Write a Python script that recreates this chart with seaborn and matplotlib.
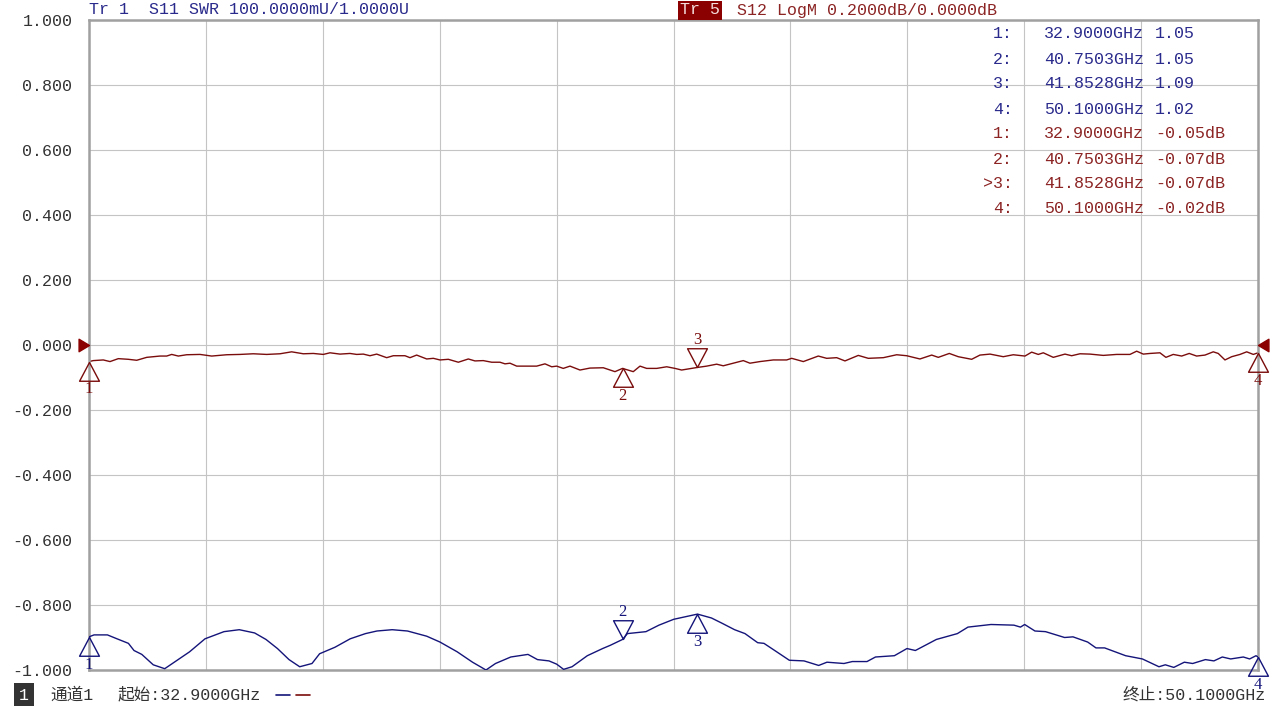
import numpy as np
import pandas as pd
import matplotlib
matplotlib.use('Agg')
import matplotlib.pyplot as plt
from matplotlib.path import Path
import seaborn as sns

# Tr 1: S11 SWR (GHz, U)
s11_freq = [32.900, 32.974, 33.171, 33.312, 33.480, 33.562, 33.677, 33.845, 34.014, 34.155,
            34.380, 34.607, 34.886, 35.111, 35.337, 35.504, 35.673, 35.843, 36.000, 36.181,
            36.293, 36.519, 36.743, 36.968, 37.137, 37.361, 37.586, 37.869, 38.064, 38.317,
            38.543, 38.741, 38.881, 39.106, 39.359, 39.499, 39.668, 39.781, 39.883, 40.007,
            40.232, 40.457, 40.570, 40.750, 40.822, 41.095, 41.286, 41.503, 41.853, 42.059,
            42.213, 42.399, 42.552, 42.739, 42.831, 43.018, 43.204, 43.420, 43.636, 43.758,
            44.008, 44.131, 44.347, 44.472, 44.750, 44.935, 45.059, 45.368, 45.677, 45.833,
            46.171, 46.509, 46.605, 46.667, 46.818, 46.974, 47.254, 47.378, 47.594, 47.716,
            47.843, 48.152, 48.399, 48.643, 48.736, 48.861, 49.016, 49.139, 49.326, 49.451,
            49.575, 49.698, 49.884, 49.977, 50.071, 50.100]
s11_swr = [1.051, 1.054, 1.054, 1.048, 1.041, 1.030, 1.024, 1.008, 1.002, 1.012,
           1.028, 1.048, 1.059, 1.062, 1.057, 1.047, 1.033, 1.016, 1.005, 1.010,
           1.025, 1.035, 1.048, 1.056, 1.060, 1.062, 1.060, 1.052, 1.043, 1.028,
           1.012, 1.000, 1.010, 1.020, 1.024, 1.016, 1.014, 1.009, 1.001, 1.005,
           1.022, 1.033, 1.038, 1.047, 1.056, 1.059, 1.069, 1.078, 1.086, 1.080,
           1.072, 1.062, 1.056, 1.042, 1.041, 1.028, 1.015, 1.014, 1.007, 1.012,
           1.010, 1.013, 1.013, 1.020, 1.022, 1.033, 1.030, 1.047, 1.056, 1.066,
           1.070, 1.069, 1.066, 1.070, 1.060, 1.059, 1.050, 1.051, 1.043, 1.034,
           1.034, 1.022, 1.017, 1.005, 1.008, 1.004, 1.012, 1.010, 1.016, 1.014,
           1.020, 1.017, 1.020, 1.017, 1.022, 1.020]

# Tr 5: S12 LogM (GHz, dB)
s12_freq = [32.900, 32.963, 33.110, 33.209, 33.331, 33.478, 33.602, 33.749, 33.945, 34.043,
            34.117, 34.214, 34.337, 34.533, 34.705, 34.926, 35.122, 35.317, 35.515, 35.710,
            35.882, 36.053, 36.200, 36.347, 36.446, 36.593, 36.740, 36.839, 36.936, 37.034,
            37.133, 37.280, 37.377, 37.549, 37.623, 37.721, 37.869, 37.966, 38.064, 38.187,
            38.334, 38.481, 38.579, 38.701, 38.825, 38.947, 39.021, 39.094, 39.193, 39.487,
            39.609, 39.708, 39.781, 39.878, 39.977, 40.124, 40.271, 40.467, 40.639, 40.750,
            40.908, 41.007, 41.105, 41.253, 41.400, 41.522, 41.620, 41.853, 41.988, 42.135,
            42.232, 42.380, 42.527, 42.625, 42.772, 42.968, 43.165, 43.239, 43.410, 43.630,
            43.754, 43.901, 44.023, 44.219, 44.366, 44.587, 44.784, 44.931, 45.126, 45.299,
            45.396, 45.558, 45.690, 45.887, 46.009, 46.157, 46.352, 46.499, 46.671, 46.770,
            46.867, 46.941, 47.088, 47.260, 47.358, 47.481, 47.628, 47.823, 48.021, 48.216,
            48.315, 48.412, 48.511, 48.657, 48.745, 48.853, 48.977, 49.088, 49.197, 49.320,
            49.442, 49.515, 49.614, 49.713, 49.835, 49.934, 50.031, 50.100]
s12_db = [-0.051, -0.048, -0.046, -0.051, -0.042, -0.044, -0.047, -0.038, -0.034, -0.034,
          -0.029, -0.034, -0.030, -0.029, -0.034, -0.030, -0.029, -0.027, -0.029, -0.027,
          -0.021, -0.027, -0.026, -0.029, -0.024, -0.028, -0.026, -0.029, -0.028, -0.033,
          -0.028, -0.039, -0.033, -0.033, -0.039, -0.031, -0.043, -0.041, -0.046, -0.044,
          -0.053, -0.043, -0.049, -0.048, -0.053, -0.053, -0.058, -0.056, -0.065, -0.065,
          -0.058, -0.067, -0.065, -0.072, -0.065, -0.077, -0.071, -0.070, -0.082, -0.072,
          -0.082, -0.065, -0.072, -0.072, -0.067, -0.072, -0.077, -0.069, -0.065, -0.059,
          -0.064, -0.056, -0.048, -0.056, -0.051, -0.046, -0.046, -0.041, -0.051, -0.034,
          -0.041, -0.039, -0.049, -0.032, -0.041, -0.039, -0.030, -0.033, -0.043, -0.031,
          -0.038, -0.026, -0.036, -0.044, -0.031, -0.028, -0.036, -0.030, -0.034, -0.022,
          -0.029, -0.024, -0.038, -0.028, -0.033, -0.027, -0.028, -0.032, -0.029, -0.029,
          -0.019, -0.028, -0.026, -0.024, -0.038, -0.029, -0.034, -0.026, -0.034, -0.031,
          -0.021, -0.026, -0.046, -0.036, -0.029, -0.021, -0.029, -0.024]

f_start, f_stop = 32.9, 50.1
y_ticks = [1.0, 0.8, 0.6, 0.4, 0.2, 0.0, -0.2, -0.4, -0.6, -0.8, -1.0]

mk_ids = ['1', '2', '3', '4']
mk_freq = [32.9, 40.7503, 41.8528, 50.1]
mk_freq_txt = ['32.9000GHz', '40.7503GHz', '41.8528GHz', '50.1000GHz']
mk_swr_txt = ['1.05', '1.05', '1.09', '1.02']
mk_db_txt = ['-0.05dB', '-0.07dB', '-0.07dB', '-0.02dB']
s11_mk_up = [True, False, True, True]
s12_mk_up = [True, True, False, True]

blue = '#14147a'
blue_txt = '#2a2a8c'
red = '#7a0c0c'
red_txt = '#8c2424'
grey_txt = '#333333'

sns.set_style('white')
fonts = ['Liberation Mono', 'Noto Sans CJK SC']
plt.rcParams['font.family'] = fonts
plt.rcParams['font.size'] = 12

fig = plt.figure(figsize=(12.8, 7.06), dpi=100)
ax = fig.add_axes([89 / 1280, 1 - 670 / 706, (1258 - 89) / 1280, 650 / 706])
ax.set_xlim(f_start, f_stop)
ax.set_ylim(-1, 1)
ax.set_xticks(np.linspace(f_start, f_stop, 11))
ax.set_xticklabels([])
ax.set_yticks(y_ticks)
ax.set_yticklabels([f'{v:.3f}' for v in y_ticks], color=grey_txt, fontsize=12)
ax.tick_params(length=0, pad=12)
ax.grid(True, color='#c4c4c4', lw=0.8)
for s in ax.spines.values():
    s.set_color('#a0a0a0')
    s.set_linewidth(1.8)

ax2 = ax.twinx()
ax2.set_ylim(1.0, 2.0)
ax2.set_yticks([])
for s in ax2.spines.values():
    s.set_visible(False)

df11 = pd.DataFrame({'freq': s11_freq, 'swr': s11_swr})
df12 = pd.DataFrame({'freq': s12_freq, 'db': s12_db})
sns.lineplot(data=df12, x='freq', y='db', ax=ax, color=red, lw=1.0)
sns.lineplot(data=df11, x='freq', y='swr', ax=ax2, color=blue, lw=1.0)
for a in (ax, ax2):
    a.set_xlabel('')
    a.set_ylabel('')

tri_up = Path([(0, 0), (-0.53, -1), (0.53, -1), (0, 0)], closed=True)
tri_dn = Path([(0, 0), (-0.53, 1), (0.53, 1), (0, 0)], closed=True)


def draw_markers(a, xs, ys, ups, color):
    for mid, f, up in zip(mk_ids, mk_freq, ups):
        yv = np.interp(f, xs, ys)
        a.plot([f], [yv], marker=tri_up if up else tri_dn, ms=27, mfc='none',
               mec=color, mew=1.0, clip_on=False, zorder=5)
        a.annotate(mid, xy=(f, yv), xytext=(0, -20 if up else 20),
                   textcoords='offset points', ha='center', va='center',
                   color=color, fontsize=12, annotation_clip=False,
                   family=['Liberation Serif'])


draw_markers(ax, s12_freq, s12_db, s12_mk_up, red)
draw_markers(ax2, s11_freq, s11_swr, s11_mk_up, blue)

# reference level arrows for Tr 5
ref_r = Path([(0, 0), (-1, 0.6), (-1, -0.6), (0, 0)], closed=True)
ref_l = Path([(0, 0), (1, 0.6), (1, -0.6), (0, 0)], closed=True)
ax.plot([f_start], [0], marker=ref_r, ms=15, color='#8b0000', clip_on=False, zorder=6)
ax.plot([f_stop], [0], marker=ref_l, ms=15, color='#8b0000', clip_on=False, zorder=6)


def ftext(px, py, s, **kw):
    kw.setdefault('va', 'center')
    kw.setdefault('fontsize', 12)
    return fig.text(px / 1280, 1 - py / 706, s, **kw)


# header
ftext(89, 10, 'Tr 1  S11 SWR 100.0000mU/1.0000U', color=blue_txt)
ftext(680, 10, 'Tr 5', color='#f4dede',
      bbox=dict(boxstyle='square,pad=0.12', fc='#8b0000', ec='none'))
ftext(737, 10, 'S12 LogM 0.2000dB/0.0000dB', color=red_txt)

# marker readout table
rows = [(m, ft, v, blue_txt) for m, ft, v in zip(mk_ids, mk_freq_txt, mk_swr_txt)]
rows += [(m, ft, v, red_txt) for m, ft, v in zip(mk_ids, mk_freq_txt, mk_db_txt)]
for i, (m, ft, v, c) in enumerate(rows):
    yy = 34 + 25 * i
    lab = m + ':'
    if c == red_txt and m == '3':
        lab = '>' + lab
    ftext(1013, yy, lab, color=c, ha='right')
    ftext(1044, yy, ft, color=c)
    ftext(1155, yy, v, color=c)

# status bar
ftext(24, 695, '1', color='white', ha='center',
      bbox=dict(boxstyle='square,pad=0.3', fc='#333333', ec='none'))
ftext(50, 695, '通道1', color=grey_txt)
ftext(118, 695, '起始:32.9000GHz', color=grey_txt)
fig.add_artist(plt.Line2D([276 / 1280, 290 / 1280], [1 - 695 / 706] * 2, color=blue, lw=1.2))
fig.add_artist(plt.Line2D([296 / 1280, 310 / 1280], [1 - 695 / 706] * 2, color=red, lw=1.2))
ftext(1266, 695, '终止:50.1000GHz', color=grey_txt, ha='right')

fig.savefig('out.png', dpi=100, facecolor='white')
